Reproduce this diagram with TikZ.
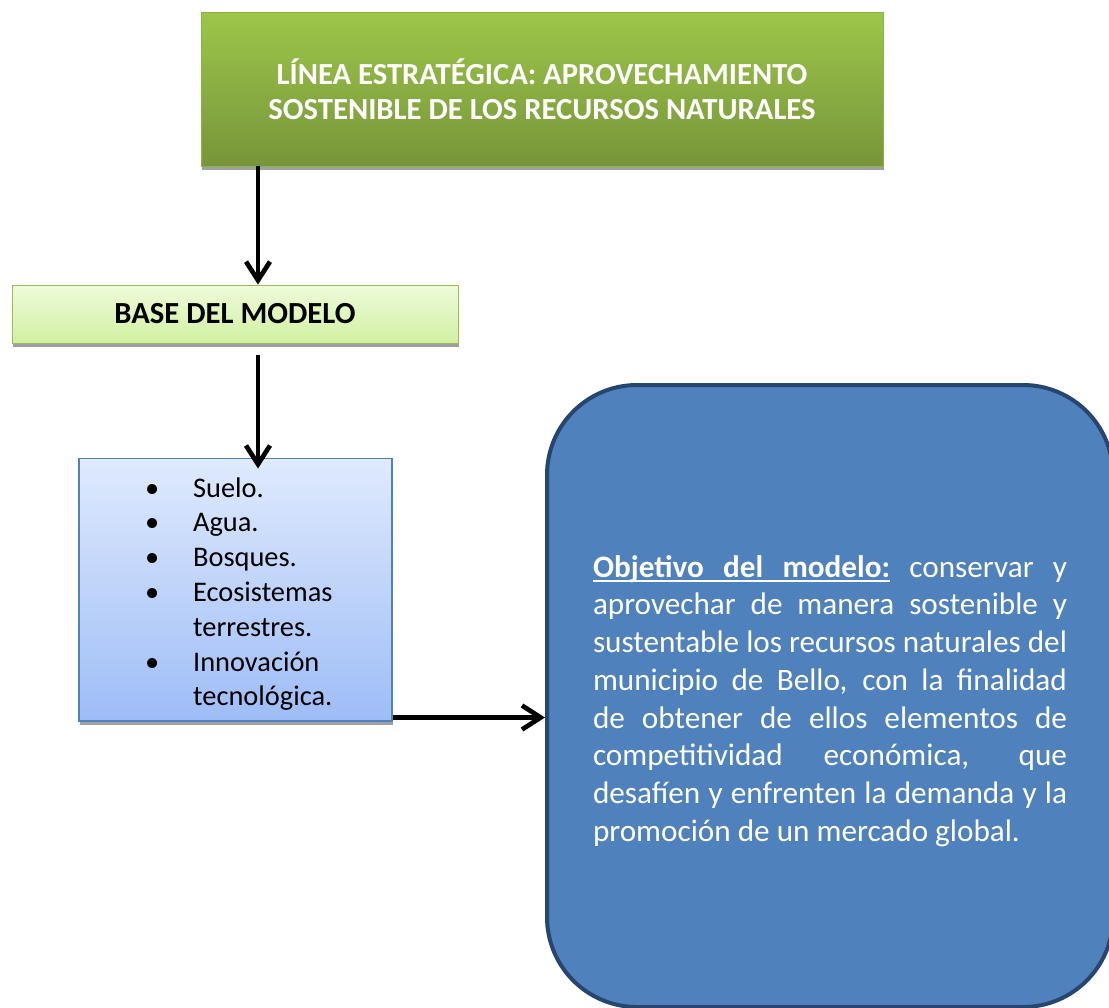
\documentclass[tikz,border=0pt]{standalone}
\usepackage{fontspec}
\setmainfont{Carlito}
\usetikzlibrary{arrows.meta,shadows,calc}

% subrayado que se estira con el texto justificado
\newcommand{\subr}[1]{\leavevmode\setbox0\hbox{#1}\rlap{\rule[-3.6pt]{\wd0}{1.3pt}}\box0}
\newcommand{\subesp}{\leaders\hrule height -2.3pt depth 3.6pt\hskip\fontdimen2\font plus\fontdimen3\font minus\fontdimen4\font}

\definecolor{verdeA}{HTML}{9DC64A}
\definecolor{verdeB}{HTML}{77953A}
\definecolor{verdeBorde}{HTML}{8DB443}
\definecolor{verdeClaroA}{HTML}{EEFBDA}
\definecolor{verdeClaroB}{HTML}{D2F0A2}
\definecolor{verdeClaroBorde}{HTML}{9BBB59}
\definecolor{azulClaroA}{HTML}{DFEAFD}
\definecolor{azulClaroB}{HTML}{9EBDF7}
\definecolor{azulBorde}{HTML}{4F81BD}
\definecolor{azulFondo}{HTML}{4F81BD}
\definecolor{azulOscuro}{HTML}{264670}

\tikzset{
  sombra/.style={drop shadow={shadow xshift=0.8pt,shadow yshift=-3pt,fill=gray!75,opacity=1}},
  flecha/.style={line width=3.5pt,-{Straight Barb[length=14pt,width=18pt]}},
}

\begin{document}
\begin{tikzpicture}[x=0.75pt,y=0.75pt,yscale=-1,xscale=1]
\useasboundingbox (0,0) rectangle (1109,1007);

% Linea estrategica
\node (linea) [sombra,top color=verdeA,bottom color=verdeB,draw=verdeBorde,line width=0.6pt,minimum width=511.5pt,minimum height=115.5pt,align=center,text=white,font=\bfseries\fontsize{23}{26.5}\selectfont] at (542,89) {LÍNEA ESTRATÉGICA: APROVECHAMIENTO\\SOSTENIBLE DE LOS RECURSOS NATURALES};
% Base del modelo
\node (base) [sombra,top color=verdeClaroA,bottom color=verdeClaroB,draw=verdeClaroBorde,line width=0.6pt,minimum width=334.5pt,minimum height=43.5pt,font=\bfseries\fontsize{23}{27}\selectfont] at (235,314) {BASE DEL MODELO};
% Lista de recursos
\node (lista) [sombra,top color=azulClaroA,bottom color=azulClaroB,draw=azulBorde,line width=1.1pt,minimum width=234.75pt,minimum height=195.75pt,font=\fontsize{21.3}{26.1}\selectfont] at (235.5,589.5) {%
\begin{tabular}{@{\hspace{5pt}}p{36pt}@{}l@{}}
\rule{0pt}{25.8pt}• & Suelo.\\
• & Agua.\\
• & Bosques.\\
• & Ecosistemas\\
  & terrestres.\\
• & Innovación\\
  & tecnológica.
\end{tabular}};
% Objetivo
\node (objetivo) [draw=azulOscuro,fill=azulFondo,line width=3pt,rounded corners=67.5pt,minimum width=424.5pt,minimum height=466.5pt,text=white] at (830,696) {\parbox{355.5pt}{\vspace*{7.5pt}\fontsize{23.4}{28.3}\selectfont\tolerance=10000
{\bfseries\subr{Objetivo}\subesp\subr{del}\subesp\subr{modelo:}} conservar y\linebreak
aprovechar de manera sostenible y\linebreak
sustentable los recursos naturales del\linebreak
municipio de Bello, con la finalidad\linebreak
de obtener de ellos elementos de\linebreak
competitividad económica, que\linebreak
desafíen y enfrenten la demanda y la\linebreak
promoción de un mercado global.}};

% Flechas
\coordinate (eje) at (258,0);
\draw[flecha] (linea.south -| eje) -- (base.north -| eje);
\draw[flecha] ($(base.south -| eje)+(0,12)$) -- ($(lista.north -| eje)+(0,11)$);
\coordinate (salida) at ($(lista.south east)+(0,-4)$);
\draw[flecha] (salida) -- (salida -| objetivo.west);

\end{tikzpicture}
\end{document}
